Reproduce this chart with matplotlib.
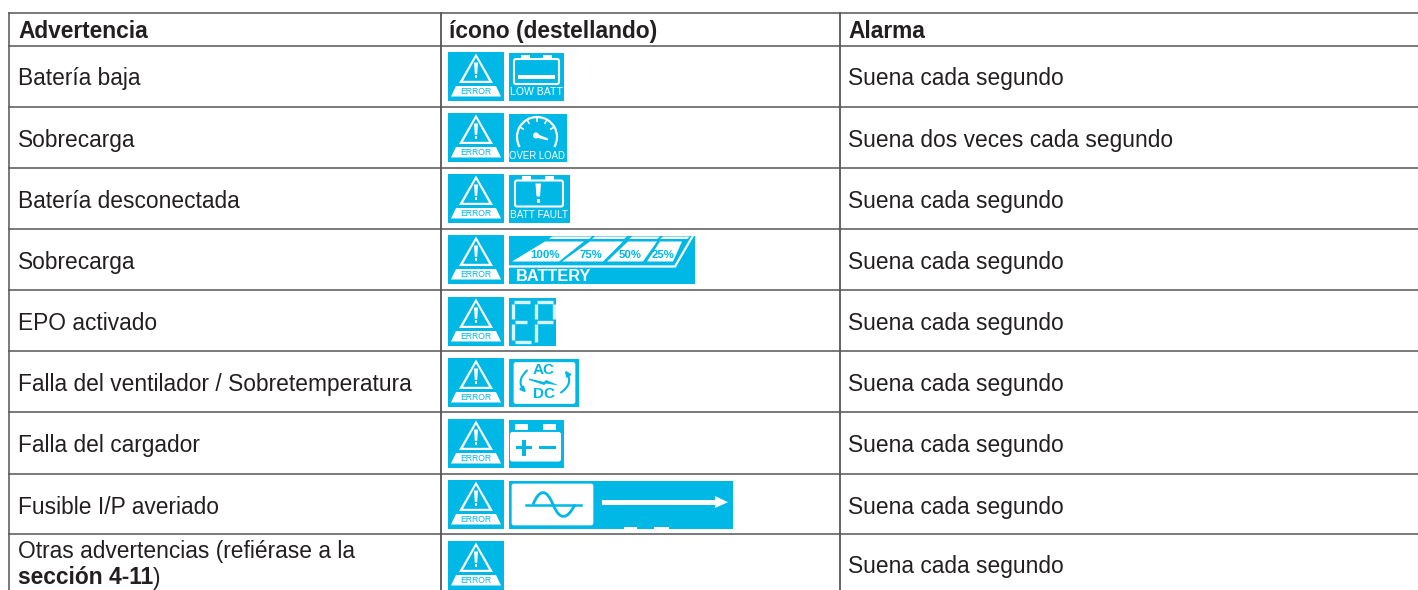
import numpy as np
import matplotlib
matplotlib.use('Agg')
import matplotlib.pyplot as plt
from matplotlib.patches import Polygon, Rectangle, FancyBboxPatch, Arc, FancyArrowPatch, PathPatch, Circle
from matplotlib.path import Path

plt.rcParams['font.family'] = ['Liberation Sans', 'DejaVu Sans']

headers = ['Advertencia', 'ícono (destellando)', 'Alarma']
warnings = ['Batería baja', 'Sobrecarga', 'Batería desconectada', 'Sobrecarga', 'EPO activado',
            'Falla del ventilador / Sobretemperatura', 'Falla del cargador', 'Fusible I/P averiado',
            'Otras advertencias (refiérase a la']
warning_bold = 'sección 4-11'
alarms = ['Suena cada segundo', 'Suena dos veces cada segundo', 'Suena cada segundo', 'Suena cada segundo',
          'Suena cada segundo', 'Suena cada segundo', 'Suena cada segundo', 'Suena cada segundo',
          'Suena cada segundo']
icons = ['low_batt', 'over_load', 'batt_fault', 'battery', 'ep', 'ac_dc', 'charger', 'fuse', None]
icon_sizes = {'low_batt': 55, 'over_load': 58, 'batt_fault': 61, 'battery': 186, 'ep': 47,
              'ac_dc': 70, 'charger': 55, 'fuse': 224}

row_lines = [13, 45.5, 107, 168, 229, 290, 351, 412, 474, 534]
col_lines = [9, 441, 840]
error_tops = [52, 113, 174, 235, 297, 358, 419, 480, 541]
text_size = 16.4

BLUE = '#00b8e6'
INK = '#231f20'
LINE = '#555555'

fig = plt.figure(figsize=(14.18, 5.9), dpi=100)
ax = fig.add_axes([0, 0, 1, 1])
ax.set_xlim(0, 1418)
ax.set_ylim(590, 0)
ax.axis('off')


def poly(pts, x0, y0, color='white', z=3):
    ax.add_patch(Polygon([(x0 + a, y0 + b) for a, b in pts], closed=True, fc=color, ec='none', zorder=z))


def rect(a, b, w, h, x0, y0, color='white', z=3):
    ax.add_patch(Rectangle((x0 + a, y0 + b), w, h, fc=color, ec='none', zorder=z))


def rbox(a, b, w, h, x0, y0, fc='none', ec='white', lw=1.5, r=2, z=3):
    ax.add_patch(FancyBboxPatch((x0 + a, y0 + b), w, h, boxstyle=f'round,pad=0,rounding_size={r}',
                                fc=fc, ec=ec, lw=lw, zorder=z))


def label(s, a, b, x0, y0, size=7, color='white', weight='normal', ha='center', z=5):
    ax.text(x0 + a, y0 + b, s, fontsize=size, color=color, fontweight=weight, ha=ha, va='center', zorder=z)


def draw_error(x0, y0):
    rect(0, 0, 56, 49, x0, y0, BLUE, 2)
    poly([(28, 1.5), (45, 31), (11, 31)], x0, y0)
    poly([(28, 5.5), (41, 28.8), (15, 28.8)], x0, y0, BLUE)
    poly([(26, 10.5), (30, 10.5), (29.2, 22), (26.8, 22)], x0, y0)
    rect(26.6, 23, 2.8, 3.2, x0, y0)
    poly([(8, 34), (48, 34), (53, 44.5), (3, 44.5)], x0, y0)
    label('ERROR', 28, 39.3, x0, y0, size=6.2, color=BLUE)


def draw_low_batt(x0, y0):
    rbox(5, 6.5, 45, 25, x0, y0)
    rect(12, 2, 9, 4, x0, y0)
    rect(34, 2, 9, 4, x0, y0)
    rect(9, 22, 37, 4.5, x0, y0)
    label('LOW BATT', 27.5, 39.5, x0, y0, size=7.6)


def draw_over_load(x0, y0):
    cx, cy = 28, 23.5
    ax.add_patch(Arc((x0 + cx, y0 + cy), 40, 40, theta1=150, theta2=390, angle=0, ec='white', lw=1.6, zorder=3))
    for deg in np.arange(210, 331, 30):
        t = np.radians(deg)
        ax.plot([x0 + cx + 16 * np.cos(t), x0 + cx + 20 * np.cos(t)],
                [y0 + cy + 16 * np.sin(t), y0 + cy + 20 * np.sin(t)], color='white', lw=1.2, zorder=3)
    ax.add_patch(Circle((x0 + 27, y0 + 22), 3, fc='white', ec='none', zorder=3))
    poly([(27, 20), (39, 25), (39, 27), (27, 24)], x0, y0)
    label('OVER LOAD', 28, 42.5, x0, y0, size=6.9)


def draw_batt_fault(x0, y0):
    rbox(6, 6, 48, 26, x0, y0)
    rect(13, 1.5, 9, 4.5, x0, y0)
    rect(36, 1.5, 9, 4.5, x0, y0)
    poly([(26.5, 9), (32, 9), (31, 22), (27.5, 22)], x0, y0)
    rect(27.5, 24, 3.5, 4, x0, y0)
    label('BATT FAULT', 30, 41, x0, y0, size=7.2)


def draw_battery(x0, y0):
    poly([(43, 1), (83, 1), (80, 3.5), (40, 3.5)], x0, y0)
    poly([(86, 1), (118, 1), (115, 3.5), (83, 3.5)], x0, y0)
    poly([(123, 1), (151, 1), (148, 3.5), (120, 3.5)], x0, y0)
    poly([(154, 1), (181, 1), (178, 3.5), (151, 3.5)], x0, y0)
    poly([(36, 6), (75, 6), (50, 26), (3, 26)], x0, y0)
    poly([(81, 6), (114, 6), (94, 26), (53, 26)], x0, y0)
    poly([(119, 6), (148, 6), (134, 26), (98, 26)], x0, y0)
    poly([(151, 6), (173, 6), (164, 26), (138, 26)], x0, y0)
    ax.plot([x0 + 1, x0 + 166, x0 + 184], [y0 + 31, y0 + 31, y0 + 0], color='white', lw=1.6, zorder=3)
    for s, a in zip(['100%', '75%', '50%', '25%'], [36, 82, 121, 154]):
        label(s, a, 19.5, x0, y0, size=8.2, color=BLUE, weight='bold')
    label('BATTERY', 7, 41, x0, y0, size=11.8, weight='bold', ha='left')


def draw_ep(x0, y0):
    for a, b, c, d in [(5, 4, 21, 4), (4, 6, 4, 21), (6, 24, 18, 24), (4, 26, 4, 42), (6, 44, 22, 44),
                       (28, 4, 44, 4), (27, 6, 27, 21), (45, 6, 45, 21), (28, 24, 44, 24), (27, 26, 27, 44)]:
        ax.plot([x0 + a, x0 + c], [y0 + b, y0 + d], color='white', lw=2.4, alpha=0.85, zorder=3,
                solid_capstyle='butt')


def draw_ac_dc(x0, y0):
    rbox(5, 4, 61, 41, x0, y0, fc='white', ec='white', lw=0.5)
    label('AC', 35, 12, x0, y0, size=11, color=BLUE, weight='bold')
    label('DC', 35, 36, x0, y0, size=11, color=BLUE, weight='bold')
    poly([(20, 20), (35, 23.5), (37, 21.5), (50, 27), (37, 25), (35, 26.5), (20, 21.5)], x0, y0, BLUE)
    ax.add_patch(FancyArrowPatch((x0 + 18, y0 + 12), (x0 + 17, y0 + 34), connectionstyle='arc3,rad=0.5',
                                 arrowstyle='-|>', mutation_scale=7, color=BLUE, lw=1.5, zorder=4, shrinkA=0, shrinkB=0))
    ax.add_patch(FancyArrowPatch((x0 + 52, y0 + 34), (x0 + 56, y0 + 12), connectionstyle='arc3,rad=0.5',
                                 arrowstyle='-|>', mutation_scale=7, color=BLUE, lw=1.5, zorder=4, shrinkA=0, shrinkB=0))


def draw_charger(x0, y0):
    rbox(1.5, 13, 50, 28.5, x0, y0, fc='white', lw=0.8)
    rect(6, 4, 13, 6.7, x0, y0)
    rect(34, 4, 13, 6.7, x0, y0)
    rect(6.7, 26, 16, 3.6, x0, y0, BLUE, 4)
    rect(12.9, 20, 3.6, 16, x0, y0, BLUE, 4)
    rect(30, 26, 17, 3.6, x0, y0, BLUE, 4)


def draw_fuse(x0, y0):
    rbox(3, 3.5, 81, 41, x0, y0, fc='white', lw=0.5)
    wave = Path([(x0 + 24, y0 + 24), (x0 + 34, y0 + 0), (x0 + 44, y0 + 24), (x0 + 54, y0 + 48), (x0 + 66, y0 + 24)],
                [Path.MOVETO, Path.CURVE3, Path.CURVE3, Path.CURVE3, Path.CURVE3])
    ax.add_patch(PathPatch(wave, fc='none', ec=BLUE, lw=2, zorder=4))
    ax.plot([x0 + 17, x0 + 72], [y0 + 24, y0 + 24], color=BLUE, lw=1.8, zorder=4)
    rect(93, 19.5, 113, 4.5, x0, y0)
    poly([(206, 15.5), (219, 21.7), (206, 27.5)], x0, y0)
    rect(115, 46, 13, 2.5, x0, y0)
    rect(145, 46, 15, 2.5, x0, y0)


painters = {'low_batt': draw_low_batt, 'over_load': draw_over_load, 'batt_fault': draw_batt_fault,
            'battery': draw_battery, 'ep': draw_ep, 'ac_dc': draw_ac_dc, 'charger': draw_charger, 'fuse': draw_fuse}

# grid
for y in row_lines:
    ax.plot([col_lines[0], 1418], [y, y], color=LINE, lw=1.1, zorder=1)
ax.plot([col_lines[0], col_lines[0]], [row_lines[0], 590], color=LINE, lw=1.1, zorder=1)
for x in col_lines[1:]:
    ax.plot([x, x], [row_lines[0], 590], color=LINE, lw=1.3, zorder=1)

# header
text_x = [18, 449, 848.5]
for x, s in zip(text_x, headers):
    ax.text(x, 38, s, fontsize=text_size, fontweight='bold', color=INK, va='baseline')

# rows, baseline sits about 40px under the row's top line
for i in range(8):
    base = row_lines[i + 1] + 40
    ax.text(text_x[0], base, warnings[i], fontsize=text_size, color=INK, va='baseline')
    ax.text(text_x[2], base, alarms[i], fontsize=text_size, color=INK, va='baseline')
ax.text(text_x[0], 558, warnings[8], fontsize=text_size, color=INK, va='baseline')
t = ax.text(text_x[0], 584.5, warning_bold, fontsize=text_size, fontweight='bold', color=INK, va='baseline')
fig.canvas.draw()
bb = t.get_window_extent()
ax.text(bb.x1, 584.5, ')', fontsize=text_size, color=INK, va='baseline')
ax.text(text_x[2], 573, alarms[8], fontsize=text_size, color=INK, va='baseline')

# icons
for top, name in zip(error_tops, icons):
    draw_error(448, top)
    if name is not None:
        rect(0, 0, icon_sizes[name], 48.5, 509, top + 0.5, BLUE, 2)
        painters[name](509, top + 0.5)

fig.savefig('out.png', dpi=100)
